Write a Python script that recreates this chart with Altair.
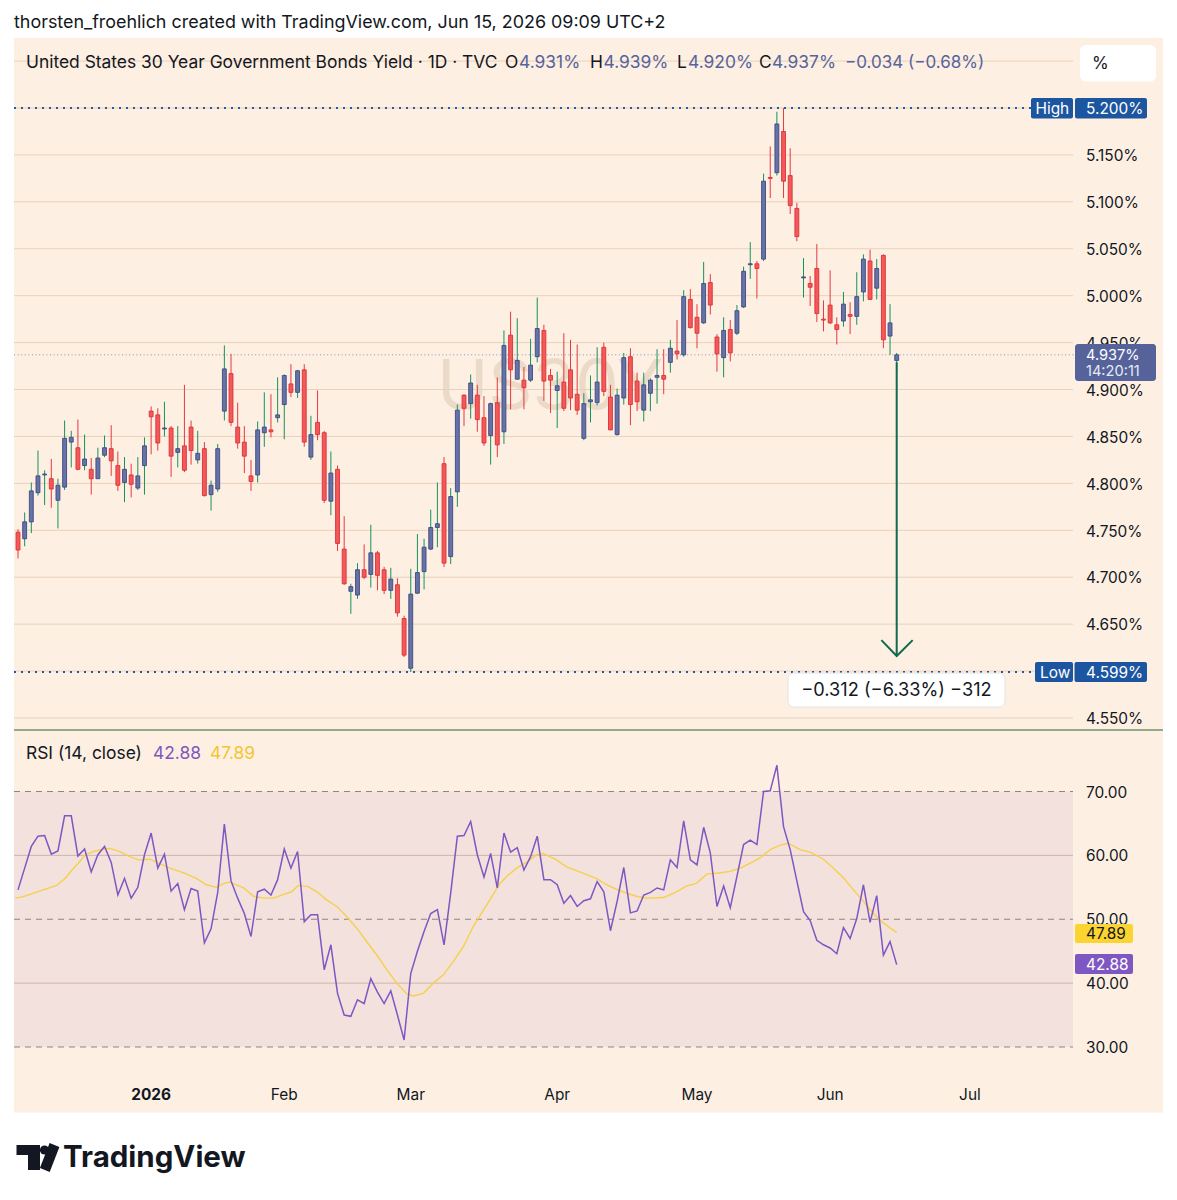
import altair as alt
import pandas as pd

# ---------------- data ----------------
opens = [4.748, 4.741, 4.759, 4.790, 4.809, 4.805, 4.782, 4.796, 4.844, 4.838,
         4.819, 4.815, 4.805, 4.830, 4.837, 4.819, 4.801, 4.809, 4.795, 4.819,
         4.877, 4.873, 4.858, 4.859, 4.833, 4.840, 4.860, 4.825, 4.837, 4.788,
         4.794, 4.877, 4.917, 4.860, 4.844, 4.808, 4.809, 4.854, 4.857, 4.870,
         4.884, 4.906, 4.897, 4.921, 4.828, 4.865, 4.854, 4.781, 4.815, 4.730,
         4.685, 4.681, 4.708, 4.703, 4.726, 4.708, 4.686, 4.692, 4.656, 4.603,
         4.683, 4.706, 4.730, 4.753, 4.821, 4.722, 4.791, 4.894, 4.885, 4.894,
         4.870, 4.851, 4.886, 4.855, 4.958, 4.911, 4.910, 4.910, 4.935, 4.963,
         4.915, 4.899, 4.908, 4.921, 4.895, 4.848, 4.887, 4.886, 4.945, 4.892,
         4.852, 4.891, 4.935, 4.909, 4.878, 4.896, 4.913, 4.915, 4.929, 4.941,
         4.937, 4.996, 4.977, 4.971, 5.014, 4.956, 4.934, 4.964, 4.960, 4.988,
         5.033, 5.034, 5.039, 5.126, 5.131, 5.175, 5.128, 5.093, 5.019, 5.013,
         5.029, 4.975, 4.990, 4.969, 4.973, 4.980, 4.978, 5.004, 5.037, 5.008,
         5.043, 4.957, 4.931]
highs = [4.751, 4.769, 4.801, 4.835, 4.814, 4.826, 4.805, 4.867, 4.856, 4.868,
         4.852, 4.827, 4.838, 4.851, 4.862, 4.834, 4.828, 4.821, 4.828, 4.849,
         4.882, 4.880, 4.887, 4.861, 4.861, 4.905, 4.867, 4.856, 4.844, 4.803,
         4.842, 4.947, 4.938, 4.886, 4.861, 4.825, 4.866, 4.897, 4.895, 4.913,
         4.916, 4.927, 4.921, 4.927, 4.872, 4.899, 4.856, 4.834, 4.819, 4.765,
         4.693, 4.715, 4.735, 4.756, 4.728, 4.711, 4.710, 4.699, 4.659, 4.709,
         4.746, 4.741, 4.772, 4.801, 4.828, 4.795, 4.884, 4.895, 4.916, 4.905,
         4.893, 4.886, 4.913, 4.963, 4.983, 4.976, 4.924, 4.954, 4.998, 4.969,
         4.922, 4.919, 4.960, 4.953, 4.948, 4.896, 4.915, 4.945, 4.950, 4.905,
         4.901, 4.939, 4.944, 4.918, 4.918, 4.912, 4.943, 4.943, 4.953, 4.974,
         5.006, 5.007, 4.991, 5.036, 5.023, 4.959, 4.977, 4.974, 4.990, 5.031,
         5.057, 5.037, 5.130, 5.159, 5.196, 5.200, 5.157, 5.099, 5.040, 5.021,
         5.055, 4.995, 5.027, 4.977, 5.004, 4.993, 5.025, 5.044, 5.049, 5.039,
         5.044, 4.991, 4.939]
lows = [4.720, 4.733, 4.747, 4.787, 4.777, 4.774, 4.752, 4.793, 4.817, 4.814,
        4.814, 4.788, 4.805, 4.828, 4.808, 4.792, 4.780, 4.785, 4.793, 4.788,
        4.831, 4.835, 4.850, 4.807, 4.817, 4.812, 4.820, 4.821, 4.786, 4.771,
        4.791, 4.867, 4.861, 4.837, 4.811, 4.792, 4.801, 4.839, 4.849, 4.865,
        4.847, 4.892, 4.891, 4.839, 4.825, 4.846, 4.779, 4.766, 4.728, 4.692,
        4.661, 4.677, 4.698, 4.689, 4.686, 4.682, 4.677, 4.658, 4.615, 4.599,
        4.682, 4.687, 4.729, 4.732, 4.711, 4.714, 4.775, 4.861, 4.869, 4.855,
        4.840, 4.820, 4.828, 4.842, 4.879, 4.911, 4.879, 4.908, 4.929, 4.888,
        4.875, 4.859, 4.877, 4.878, 4.873, 4.846, 4.865, 4.883, 4.893, 4.857,
        4.851, 4.884, 4.862, 4.877, 4.866, 4.877, 4.885, 4.895, 4.918, 4.932,
        4.935, 4.965, 4.944, 4.970, 4.980, 4.919, 4.913, 4.930, 4.958, 4.987,
        5.018, 4.997, 5.037, 5.104, 5.128, 5.104, 5.087, 5.058, 4.998, 4.989,
        4.972, 4.962, 4.970, 4.948, 4.967, 4.959, 4.969, 4.994, 4.996, 4.996,
        4.944, 4.937, 4.920]
closes = [4.729, 4.759, 4.792, 4.808, 4.810, 4.794, 4.798, 4.848, 4.849, 4.815,
          4.826, 4.805, 4.827, 4.838, 4.824, 4.798, 4.815, 4.799, 4.808, 4.840,
          4.871, 4.843, 4.859, 4.829, 4.837, 4.814, 4.835, 4.832, 4.787, 4.798,
          4.837, 4.922, 4.865, 4.843, 4.829, 4.802, 4.857, 4.860, 4.855, 4.873,
          4.915, 4.897, 4.920, 4.844, 4.852, 4.852, 4.782, 4.811, 4.736, 4.693,
          4.690, 4.708, 4.700, 4.726, 4.702, 4.686, 4.698, 4.662, 4.617, 4.682,
          4.705, 4.732, 4.753, 4.757, 4.715, 4.786, 4.878, 4.880, 4.907, 4.868,
          4.843, 4.885, 4.841, 4.947, 4.921, 4.931, 4.902, 4.926, 4.965, 4.909,
          4.910, 4.904, 4.880, 4.891, 4.878, 4.885, 4.889, 4.908, 4.898, 4.857,
          4.894, 4.934, 4.884, 4.887, 4.905, 4.910, 4.915, 4.911, 4.944, 4.938,
          4.999, 4.966, 4.960, 5.013, 4.990, 4.938, 4.963, 4.939, 4.984, 5.026,
          5.034, 5.029, 5.122, 5.125, 5.183, 5.122, 5.096, 5.063, 5.020, 5.009,
          4.981, 4.974, 4.971, 4.964, 4.991, 4.978, 4.999, 5.039, 4.996, 5.029,
          4.953, 4.971, 4.937]

rsi_vals = [54.6, 58.0, 61.4, 63.0, 63.1, 60.2, 60.7, 66.2, 66.2, 59.9,
            61.0, 57.4, 60.1, 61.4, 58.9, 53.8, 56.4, 53.3, 55.0, 60.1,
            63.5, 58.0, 60.2, 54.4, 55.6, 51.5, 54.8, 54.4, 46.3, 48.5,
            54.2, 64.9, 56.0, 53.3, 50.9, 47.3, 54.3, 54.7, 53.8, 56.2,
            61.0, 58.0, 60.6, 49.6, 50.7, 50.7, 42.1, 46.0, 38.4, 35.0,
            34.8, 37.4, 36.8, 40.7, 38.6, 36.8, 38.8, 35.0, 31.1, 41.5,
            45.0, 48.1, 50.9, 51.5, 46.0, 54.1, 63.0, 63.1, 65.3, 60.1,
            56.6, 60.3, 54.9, 63.5, 60.5, 61.2, 57.7, 59.8, 63.0, 56.2,
            56.2, 55.4, 52.5, 53.7, 52.0, 52.9, 53.2, 55.9, 54.3, 48.2,
            52.8, 58.1, 51.0, 51.3, 53.8, 54.2, 54.9, 54.6, 59.3, 58.1,
            65.4, 59.3, 58.5, 64.4, 60.4, 52.0, 55.2, 51.8, 56.7, 61.7,
            62.4, 61.7, 70.0, 70.1, 74.1, 64.5, 60.9, 56.0, 51.2, 49.8,
            46.7, 46.0, 45.5, 44.6, 48.7, 47.0, 50.1, 55.4, 49.5, 53.7,
            44.4, 46.5, 42.9]

ma_pos = [-0.4, 0.8, 1.8, 3.8, 5.8, 7.1, 8.1, 9.1, 10.1, 11.3, 12.8, 13.8, 15.3,
          16.8, 18.1, 19.8, 21.1, 22.8, 24.8, 26.8, 28.3, 29.8, 31.1, 31.8, 33.9,
          35.4, 36.9, 38.4, 39.9, 41.1, 42.1, 43.6, 44.9, 46.4, 47.9, 49.4, 50.9,
          52.6, 53.9, 55.4, 56.9, 58.4, 59.4, 60.9, 62.6, 63.9, 65.4, 66.9, 68.4,
          70.4, 72.4, 73.4, 74.9, 76.4, 77.9, 78.9, 80.9, 82.4, 83.9, 85.4, 86.9,
          88.4, 89.9, 91.4, 92.9, 94.4, 97.0, 98.9, 100.4, 101.9, 103.5, 105.0,
          107.0, 108.5, 110.0, 111.5, 113.0, 114.5, 115.7, 117.5, 119.0, 121.0,
          122.5, 124.0, 125.5, 127.0, 128.5, 130.0, 132.0]
ma_vals = [53.3, 53.55, 53.9, 54.6, 55.3, 56.4, 57.7, 58.8, 60.1, 60.6, 61.0, 61.1, 60.6,
           59.8, 59.3, 59.4, 58.8, 58.0, 57.3, 56.4, 55.4, 55.0, 55.7, 55.8, 54.9,
           53.6, 53.3, 53.3, 53.9, 54.3, 55.3, 55.1, 54.3, 53.0, 52.0, 50.4, 48.6,
           46.2, 44.4, 42.1, 40.0, 38.3, 38.0, 38.4, 40.2, 41.3, 43.4, 45.7, 48.9,
           52.2, 55.6, 56.7, 58.0, 58.9, 60.1, 60.3, 59.3, 58.2, 57.6, 57.0, 56.4,
           55.4, 54.7, 54.1, 53.6, 53.3, 53.4, 54.3, 55.2, 55.6, 57.1, 57.2,
           57.5, 58.0, 58.8, 59.6, 60.9, 61.6, 61.9, 60.9, 60.5, 59.4,
           58.0, 56.5, 54.6, 52.8, 50.9, 49.4, 47.9]

month_labels = ["2026", "Feb", "Mar", "Apr", "May", "Jun", "Jul"]
month_bars = [20, 40, 59, 81, 102, 122, 143]
month_bold = [True, False, False, False, False, False, False]

price_grid = [4.55, 4.60, 4.65, 4.70, 4.75, 4.80, 4.85, 4.90, 4.95, 5.00,
              5.05, 5.10, 5.15, 5.20, 5.25]
price_ticks = [5.15, 5.10, 5.05, 5.00, 4.95, 4.90, 4.85, 4.80, 4.75, 4.70, 4.65, 4.55]
price_tick_labels = ["5.150%", "5.100%", "5.050%", "5.000%", "4.950%", "4.900%",
                     "4.850%", "4.800%", "4.750%", "4.700%", "4.650%", "4.550%"]
rsi_ticks = [70, 60, 50, 40, 30]
rsi_tick_labels = ["70.00", "60.00", "50.00", "40.00", "30.00"]
rsi_solid = [60, 40]
rsi_dashed = [70, 50, 30]

high_val, low_val, last_val = 5.200, 4.599, 4.937
arrow_bar, arrow_top, arrow_bottom = 132, 4.929, 4.616
arrow_head_bars = [129.7, 132.0, 134.4]
arrow_head_vals = [4.633, 4.616, 4.633]

# ---------------- styling ----------------
FONT = "Inter"
DARK = "#131722"
OX, OY = 8, 8
W, H = 1161, 1176
PEACH = "#fdf0e3"
GRID = "#ead0b9"
UP_FILL, UP_STROKE, UP_WICK = "#6673a8", "#3d4a7e", "#16905d"
DN_FILL, DN_STROKE, DN_WICK = "#f25a5a", "#dd3037", "#e5383f"
PURPLE = "#7e57c2"
YELLOW = "#f6d04a"
BLUE_LBL = "#1d56a0"
AX = 15.4   # axis label size
HD = 17.4   # header size

XS = alt.Scale(domain=[0, 132], range=[18 - OX, 896.7 - OX], nice=False, zero=False, padding=0)
PY = alt.Scale(domain=[4.55, 5.20], range=[718 - OY, 108 - OY], nice=False, zero=False)
RY = alt.Scale(domain=[30, 70], range=[1047 - OY, 791.5 - OY], nice=False, zero=False)


def one():
    return pd.DataFrame({"t": [""]})


def T(text, x, y, size=AX, color=DARK, weight="normal", align="left", baseline="middle"):
    return alt.Chart(pd.DataFrame({"t": [text]})).mark_text(
        align=align, baseline=baseline, fontSize=size, color=color,
        fontWeight=weight, font=FONT
    ).encode(x=alt.value(x - OX), y=alt.value(y - OY), text="t:N")


def R(x1, y1, x2, y2, fill, radius=0, stroke=None):
    kw = dict(fill=fill, cornerRadius=radius)
    if stroke is not None:
        kw["stroke"] = stroke
        kw["strokeWidth"] = 1
    return alt.Chart(one()).mark_rect(**kw).encode(
        x=alt.value(x1 - OX), x2=alt.value(x2 - OX),
        y=alt.value(y1 - OY), y2=alt.value(y2 - OY))


def seg(x1, y1, x2, y2, color, width=1, dash=None, cap="butt"):
    kw = dict(color=color, strokeWidth=width, strokeCap=cap)
    if dash is not None:
        kw["strokeDash"] = dash
    return alt.Chart(one()).mark_rule(**kw).encode(
        x=alt.value(x1 - OX), x2=alt.value(x2 - OX),
        y=alt.value(y1 - OY), y2=alt.value(y2 - OY))


def hline(vals, scale, x1, x2, color, width=1, dash=None):
    kw = dict(color=color, strokeWidth=width)
    if dash is not None:
        kw["strokeDash"] = dash
    return alt.Chart(pd.DataFrame({"v": vals})).mark_rule(**kw).encode(
        y=alt.Y("v:Q", scale=scale, axis=None),
        x=alt.value(x1 - OX), x2=alt.value(x2 - OX))


layers = []

# chart backgrounds
layers.append(R(14, 38, 1163, 1112.5, PEACH))
rsi_band = alt.Chart(pd.DataFrame({"a": [70], "b": [30]})).mark_rect(fill="#f2e1dd").encode(
    y=alt.Y("a:Q", scale=RY, axis=None), y2="b:Q",
    x=alt.value(14 - OX), x2=alt.value(1073 - OX))
layers.append(rsi_band)

# watermark
layers.append(T("US30Y", 437, 409, size=69, color="#ebdac8", baseline="alphabetic"))

# grid lines
layers.append(hline(price_grid, PY, 14, 1073, GRID))
layers.append(hline(rsi_solid, RY, 14, 1073, "#d4b3a8"))
layers.append(hline(rsi_dashed, RY, 14, 1073, "#8c8585", dash=[6, 5]))

# pane separator
layers.append(seg(14, 730, 1163, 730, "#2f6130", 1.2))

# price lines
layers.append(hline([last_val], PY, 14, 1075, "#8e93a3", 1, dash=[1, 2.6]))
layers.append(hline([high_val], PY, 14, 1031, "#1f5aa8", 2.2, dash=[2, 5]))
layers.append(hline([low_val], PY, 14, 1035, "#1f5aa8", 2.2, dash=[2, 5]))

# candles
df = pd.DataFrame({"i": list(range(len(opens))), "o": opens, "h": highs, "l": lows, "c": closes})
df["top"] = df[["o", "c"]].max(axis=1)
df["bot"] = df[["o", "c"]].min(axis=1)
up = df[df["c"] >= df["o"]]
dn = df[df["c"] < df["o"]]

for d, wick in ((up, UP_WICK), (dn, DN_WICK)):
    layers.append(alt.Chart(d).mark_rule(color=wick, strokeWidth=1).encode(
        x=alt.X("i:Q", scale=XS, axis=None),
        y=alt.Y("l:Q", scale=PY, axis=None), y2="h:Q"))
for d, fill, stroke in ((up, UP_FILL, UP_STROKE), (dn, DN_FILL, DN_STROKE)):
    layers.append(alt.Chart(d).mark_bar(size=3.9, fill=fill, stroke=stroke, strokeWidth=0.9).encode(
        x=alt.X("i:Q", scale=XS, axis=None),
        y=alt.Y("bot:Q", scale=PY, axis=None), y2="top:Q"))

# measurement arrow
layers.append(alt.Chart(pd.DataFrame({"i": [arrow_bar], "a": [arrow_top], "b": [arrow_bottom]})).mark_rule(
    color="#0f6b4f", strokeWidth=2).encode(
    x=alt.X("i:Q", scale=XS, axis=None), y=alt.Y("a:Q", scale=PY, axis=None), y2="b:Q"))
layers.append(alt.Chart(pd.DataFrame({"i": arrow_head_bars, "v": arrow_head_vals})).mark_line(
    color="#0f6b4f", strokeWidth=2).encode(
    x=alt.X("i:Q", scale=XS, axis=None), y=alt.Y("v:Q", scale=PY, axis=None)))
layers.append(R(788, 673, 1005, 707, "white", radius=6, stroke="#e3e3e3"))
layers.append(T("\u22120.312 (\u22126.33%) \u2212312", 896.5, 690.5, size=18.2, align="center"))

# RSI lines
layers.append(alt.Chart(pd.DataFrame({"i": ma_pos, "v": ma_vals})).mark_line(
    color=YELLOW, strokeWidth=1.4).encode(
    x=alt.X("i:Q", scale=XS, axis=None), y=alt.Y("v:Q", scale=RY, axis=None)))
layers.append(alt.Chart(pd.DataFrame({"i": list(range(len(rsi_vals))), "v": rsi_vals})).mark_line(
    color=PURPLE, strokeWidth=1.5).encode(
    x=alt.X("i:Q", scale=XS, axis=None), y=alt.Y("v:Q", scale=RY, axis=None)))

# price axis labels
layers.append(alt.Chart(pd.DataFrame({"v": price_ticks, "t": price_tick_labels})).mark_text(
    align="left", baseline="middle", fontSize=AX, color=DARK, font=FONT, dy=1.2).encode(
    y=alt.Y("v:Q", scale=PY, axis=None), x=alt.value(1086 - OX), text="t:N"))
layers.append(alt.Chart(pd.DataFrame({"v": rsi_ticks, "t": rsi_tick_labels})).mark_text(
    align="left", baseline="middle", fontSize=AX, color=DARK, font=FONT, dy=1.0).encode(
    y=alt.Y("v:Q", scale=RY, axis=None), x=alt.value(1086 - OX), text="t:N"))

# time axis labels
mdf = pd.DataFrame({"i": month_bars, "t": month_labels, "b": month_bold})
for is_bold, weight in ((True, "bold"), (False, "normal")):
    layers.append(alt.Chart(mdf[mdf["b"] == is_bold]).mark_text(
        align="center", baseline="middle", fontSize=AX, color=DARK, font=FONT,
        fontWeight=weight).encode(
        x=alt.X("i:Q", scale=XS, axis=None), y=alt.value(1095 - OY), text="t:N"))

# right-side label boxes
layers.append(R(1031, 98, 1073, 118.5, BLUE_LBL, radius=2))
layers.append(T("High", 1035.5, 109, color="white"))
layers.append(R(1075, 98, 1147, 118.5, BLUE_LBL, radius=2))
layers.append(T("5.200%", 1086, 109, color="white"))
layers.append(R(1035, 662, 1073, 682, BLUE_LBL, radius=2))
layers.append(T("Low", 1040, 672.5, color="white"))
layers.append(R(1074.5, 662, 1147, 682, BLUE_LBL, radius=2))
layers.append(T("4.599%", 1086, 672.5, color="white"))
layers.append(R(1075, 344, 1156, 381, "#56639b", radius=3))
layers.append(T("4.937%", 1086, 355.5, size=14.6, color="white"))
layers.append(T("14:20:11", 1086, 372, size=14.6, color="#e8eaf2"))
layers.append(R(1080, 45, 1156, 81.5, "white", radius=6))
layers.append(T("%", 1092, 64, size=17, color=DARK))
layers.append(R(1075, 924, 1133, 943, "#fbd431", radius=2))
layers.append(T("47.89", 1086, 934, color=DARK))
layers.append(R(1075, 954, 1133, 974, PURPLE, radius=2))
layers.append(T("42.88", 1086, 964.5, color="white"))

# legends / headers
layers.append(T("thorsten_froehlich created with TradingView.com, Jun 15, 2026 09:09 UTC+2", 14, 23, size=17.9))
layers.append(T("United States 30 Year Government Bonds Yield \u00b7 1D \u00b7 TVC", 26, 62.5, size=HD))
OHLC_BLUE = "#56639c"
for lbl, lx, val, vx in (("O", 505, "4.931%", 519), ("H", 590, "4.939%", 603.5),
                         ("L", 677, "4.920%", 688), ("C", 759, "4.937%", 772)):
    layers.append(T(lbl, lx, 62.5, size=HD))
    layers.append(T(val, vx, 62.5, size=HD, color=OHLC_BLUE))
layers.append(T("\u22120.034 (\u22120.68%)", 845, 62.5, size=17.0, color=OHLC_BLUE))
layers.append(T("RSI (14, close)", 26, 754, size=HD))
layers.append(T("42.88", 153, 754, size=HD, color=PURPLE))
layers.append(T("47.89", 210, 754, size=HD, color="#f2c531"))

# TradingView logo
layers.append(R(16.5, 1145, 40, 1155, DARK))
layers.append(R(28, 1145, 40, 1170, DARK))
layers.append(alt.Chart(one()).mark_point(filled=True, shape="circle", size=85, color=DARK, opacity=1).encode(
    x=alt.value(44.5 - OX), y=alt.value(1150 - OY)))
layers.append(seg(54.5, 1145, 44.8, 1170, DARK, 10.5))
layers.append(T("TradingView", 63, 1158, size=29.5, weight="bold"))

chart = alt.layer(*layers).resolve_scale(x="independent", y="independent").properties(
    width=W, height=H, autosize=alt.AutoSizeParams(type="none"), padding=0, background="white"
).configure_view(stroke=None)

chart.save("out.html", embed_options={"renderer": "svg", "actions": False})
